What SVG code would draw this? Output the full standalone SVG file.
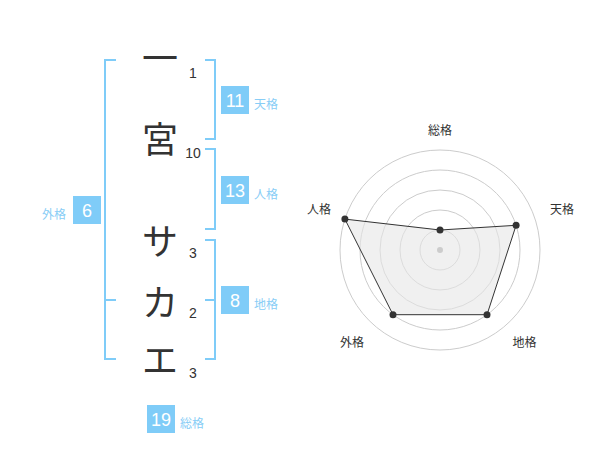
<svg xmlns="http://www.w3.org/2000/svg" width="600" height="470" viewBox="0 0 600 470">
<style>
.ch{font-family:"Noto Sans CJK JP","Noto Sans CJK SC",sans-serif;font-size:36px;fill:#333;text-anchor:middle}
.num{font-family:"Liberation Sans",Arial,sans-serif;font-size:14px;fill:#333;text-anchor:middle}
.box{fill:#7fccf8}
.bnum{font-family:"Liberation Sans",Arial,sans-serif;font-size:18px;fill:#fff;text-anchor:middle}
.lbl{font-family:"Noto Sans CJK JP","Noto Sans CJK SC",sans-serif;font-size:12px;fill:#88cdf6}
.br{fill:none;stroke:#7fccf8;stroke-width:2}
.ring{fill:none;stroke:#cccccc;stroke-width:1}
.rl{font-family:"Noto Sans CJK JP","Noto Sans CJK SC",sans-serif;font-size:12px;fill:#333;text-anchor:middle}
.dot{fill:#333}
</style>
<rect width="600" height="470" fill="#fff"/>
<g id="connectors">
<path class="br" d="M205,60 H215 V139 H205"/>
<path class="br" d="M205,149 H215 V229 H205"/>
<path class="br" d="M205,240 H215 V359 H205 M205,300 H215"/>
<path class="br" d="M116,60 H105 V359 H116 M105,300 H116"/>
</g>
<g id="name">
<g id="char1"><text class="ch" x="160" y="72">一</text><text class="num" x="193" y="78">1</text></g>
<g id="char2"><text class="ch" x="160" y="153">宮</text><text class="num" x="193" y="158">10</text></g>
<g id="char3"><text class="ch" x="160" y="255">サ</text><text class="num" x="193" y="258">3</text></g>
<g id="char4"><text class="ch" x="160" y="316">カ</text><text class="num" x="193" y="318">2</text></g>
<g id="char5"><text class="ch" x="160" y="374">エ</text><text class="num" x="193" y="378">3</text></g>
</g>
<g id="tenkaku"><rect class="box" x="221" y="86" width="28" height="28"/><text class="bnum" x="235" y="106.5">11</text><text class="lbl" x="254" y="108.5">天格</text></g>
<g id="jinkaku"><rect class="box" x="221" y="176" width="28" height="28"/><text class="bnum" x="235" y="196.5">13</text><text class="lbl" x="254" y="198.5">人格</text></g>
<g id="chikaku"><rect class="box" x="221" y="286" width="28" height="28"/><text class="bnum" x="235" y="306.5">8</text><text class="lbl" x="254" y="308.5">地格</text></g>
<g id="gaikaku"><rect class="box" x="73" y="196" width="28" height="28"/><text class="bnum" x="87" y="216.5">6</text><text class="lbl" x="66" y="218.5" text-anchor="end">外格</text></g>
<g id="soukaku"><rect class="box" x="147" y="405" width="28" height="28"/><text class="bnum" x="161" y="425.5">19</text><text class="lbl" x="180" y="427.5">総格</text></g>
<g id="radar">
<circle class="ring" cx="440" cy="250" r="20"/>
<circle class="ring" cx="440" cy="250" r="40"/>
<circle class="ring" cx="440" cy="250" r="60"/>
<circle class="ring" cx="440" cy="250" r="80"/>
<circle class="ring" cx="440" cy="250" r="100"/>
<polygon points="440,230 516.1,225.3 487,314.7 393,314.7 344.9,219.1" fill="#e6e6e6" fill-opacity="0.6" stroke="#333" stroke-width="1"/>
<circle cx="440" cy="250" r="3" fill="#cccccc"/>
<circle class="dot" cx="440" cy="230" r="3.5"/>
<circle class="dot" cx="516.1" cy="225.3" r="3.5"/>
<circle class="dot" cx="487" cy="314.7" r="3.5"/>
<circle class="dot" cx="393" cy="314.7" r="3.5"/>
<circle class="dot" cx="344.9" cy="219.1" r="3.5"/>
<text class="rl" x="440" y="134.5">総格</text>
<text class="rl" x="562" y="213.5">天格</text>
<text class="rl" x="319" y="213.5">人格</text>
<text class="rl" x="524.5" y="346.5">地格</text>
<text class="rl" x="352" y="346.5">外格</text>
</g>
</svg>
